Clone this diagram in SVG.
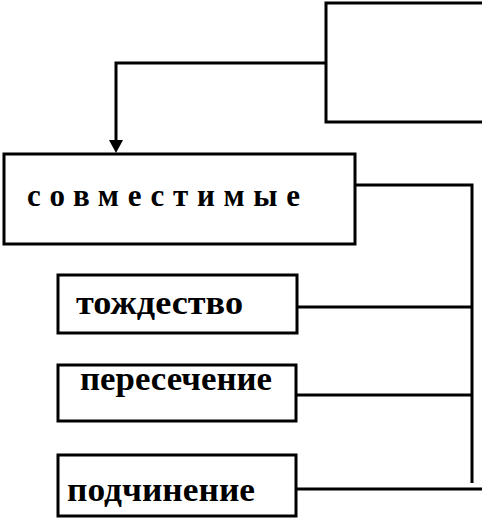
<svg xmlns="http://www.w3.org/2000/svg" width="482" height="522" viewBox="0 0 482 522">
<style>
.box{fill:#fff;stroke:#000;stroke-width:3}
.ln{fill:none;stroke:#000;stroke-width:3}
.t{font-family:"Liberation Serif",serif;font-weight:bold;fill:#000;font-size:34px}
.s{font-size:31px}
</style>
<rect width="482" height="522" fill="#fff"/>
<g id="connectors">
<path class="ln" d="M326,63 H116 V140"/>
<path d="M109,140 L123,140 L116,153 Z" fill="#000"/>
<path class="ln" d="M355,185 H472 V483"/>
<path class="ln" d="M297,307 H472"/>
<path class="ln" d="M297,395 H472"/>
<path class="ln" d="M297,489 H482"/>
</g>
<g id="top">
<rect class="box" x="326" y="3" width="170" height="119"/>
</g>
<g id="sovmestimye">
<rect class="box" x="4" y="154" width="351" height="90"/>
<text class="t s" x="27" y="206" textLength="273" lengthAdjust="spacing">совместимые</text>
</g>
<g id="tozhdestvo">
<rect class="box" x="58" y="275" width="239" height="58"/>
<text class="t" x="76" y="314" textLength="167" lengthAdjust="spacingAndGlyphs">тождество</text>
</g>
<g id="peresechenie">
<rect class="box" x="58" y="365" width="238" height="56"/>
<text class="t" x="80" y="390" textLength="192" lengthAdjust="spacingAndGlyphs">пересечение</text>
</g>
<g id="podchinenie">
<rect class="box" x="58" y="455" width="238" height="61"/>
<text class="t" x="67" y="501" textLength="188" lengthAdjust="spacingAndGlyphs">подчинение</text>
</g>
</svg>
